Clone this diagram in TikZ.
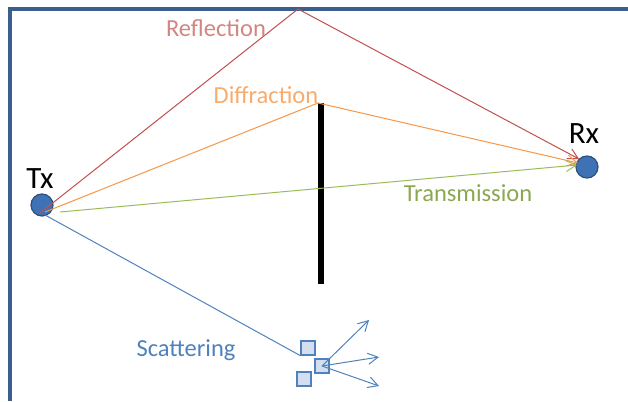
\documentclass[tikz,border=0pt]{standalone}
\usepackage{fontspec}
\setmainfont{Carlito}
\usetikzlibrary{arrows.meta}
\definecolor{frameblue}{HTML}{3A5F8F}
\definecolor{cred}{HTML}{C0504D}
\definecolor{corange}{HTML}{F79646}
\definecolor{cgreen}{HTML}{9BBB59}
\definecolor{cblue}{HTML}{4F81BD}
\definecolor{dotblue}{HTML}{3F72B5}
\begin{document}
\begin{tikzpicture}[x=1pt,y=-1pt,
  station/.style={circle,draw=dotblue!70!black,fill=dotblue,line width=1.2pt,minimum size=22pt,inner sep=0pt},
  path/.style={line width=1pt},
  arr/.style={-{Straight Barb[length=10pt,width=11pt]}},
  lbl/.style={font=\fontsize{24.5}{24.5}\selectfont,inner sep=0pt},
  big/.style={font=\fontsize{31}{31}\selectfont,inner sep=0pt},
  sq/.style={draw=cblue,fill=cblue!25,line width=1.3pt,minimum size=14pt,inner sep=0pt}]
\useasboundingbox (0,0) rectangle (628,401);
\draw[frameblue,line width=3.5pt] (10,401) -- (10,9) -- (630,9);
% stations
\node[station] (tx) at (42,205) {};
\node[station] (rx) at (587,167) {};
\node[big] (txl) at (40,179) {Tx};
\node[big] (rxl) at (584,134) {Rx};
% obstacle
\coordinate (dtop) at (321,103);
\coordinate (dbot) at (321,284);
\draw[black,line width=6pt] (dtop) -- (dbot);
% points
\coordinate (refl) at (298,9);
\coordinate (diff) at (318,103);
\coordinate (s0) at (40,213);
\coordinate (s1) at (45,212);
\coordinate (s2) at (60,212);
\coordinate (s3) at (45,215);
\coordinate (e1) at (579,159);
\coordinate (e2) at (578,163);
\coordinate (e3) at (577,165);
% reflection
\draw[path,cred,arr] (s0) -- (refl) -- (e1);
\node[lbl,text=cred!70] (rl) at (216,28) {Reflection};
% diffraction
\draw[path,corange,arr] (s1) -- (diff) -- (e2);
\node[lbl,text=corange!80] (dl) at (266,95) {Diffraction};
% transmission
\draw[path,cgreen,arr] (s2) -- (e3);
\node[lbl,text=cgreen!90!black] (tl) at (468,193) {Transmission};
% scattering
\node[sq] (q1) at (308,348) {};
\node[sq] (q2) at (322,366) {};
\node[sq] (q3) at (304,379) {};
\draw[path,cblue] (s3) -- (q1.south west);
\node[lbl,text=cblue] (sl) at (186,350) {Scattering};
\coordinate (a1) at (369,320);
\coordinate (a2) at (379,357);
\coordinate (a3) at (379,386);
\draw[path,cblue,arr] (q2.center) -- (a1);
\draw[path,cblue,arr] (q2.center) -- (a2);
\draw[path,cblue,arr] (q2.center) -- (a3);
\end{tikzpicture}
\end{document}
